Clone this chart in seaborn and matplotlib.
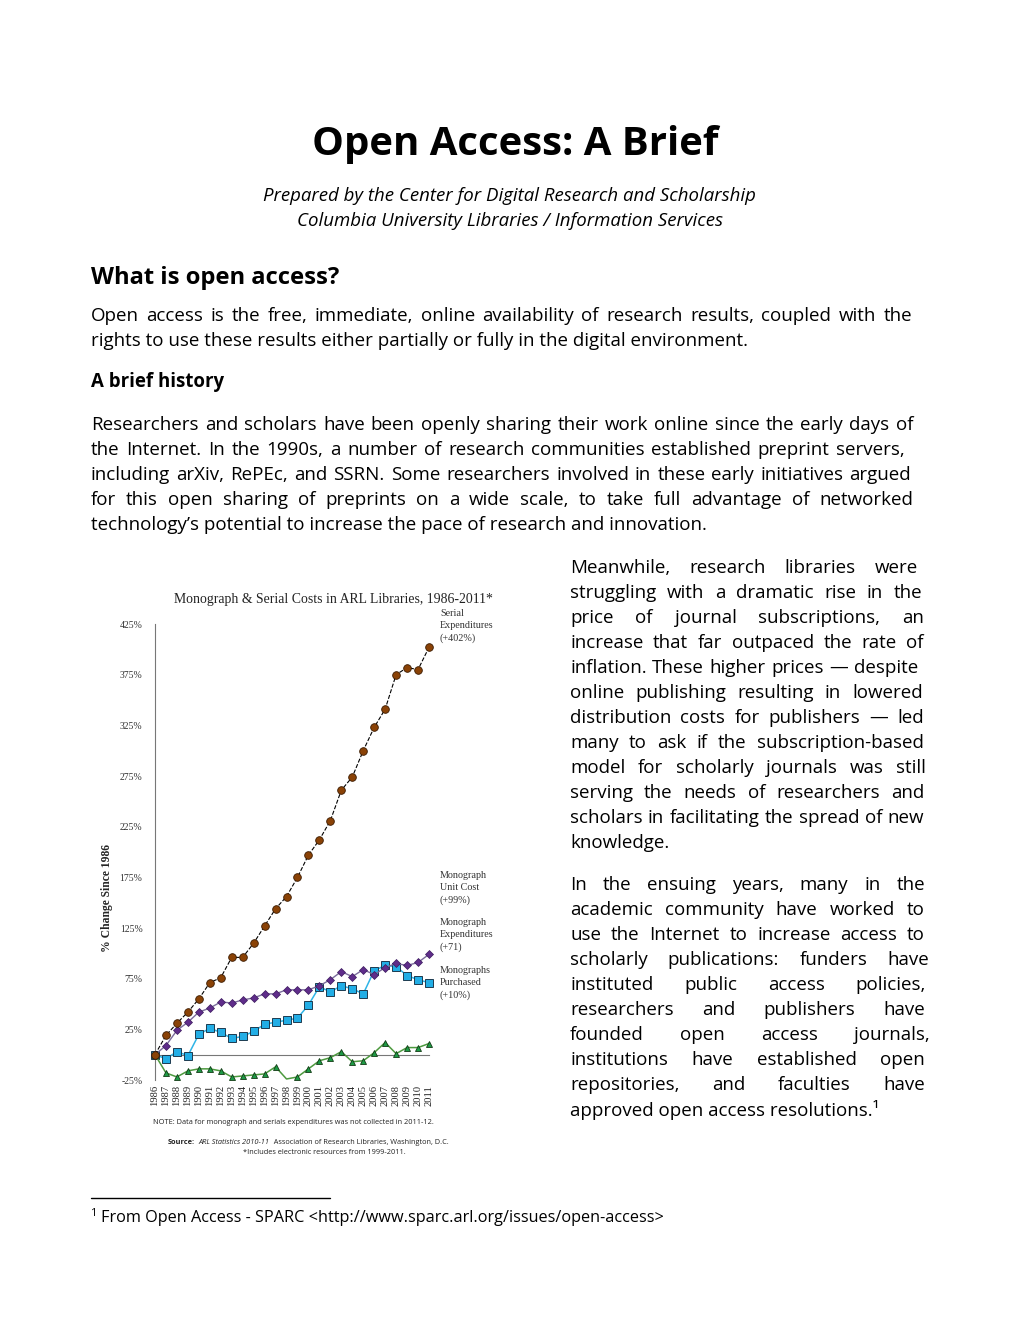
import numpy as np
import pandas as pd
import matplotlib
matplotlib.use("Agg")
import matplotlib.pyplot as plt
import seaborn as sns

# chart data (percent change since 1986)
years = list(range(1986, 2012))
serial_expenditures = [0, 19, 31, 42, 55, 71, 76, 96, 96, 110, 127, 144, 156, 175,
                       197, 212, 231, 261, 274, 300, 323, 341, 375, 382, 380, 402]
monograph_unit_cost = [0, 9, 24, 32, 42, 46, 52, 51, 54, 56, 60, 60, 64, 64,
                       64, 68, 74, 82, 77, 84, 79, 86, 90, 88, 91, 99]
monograph_expenditures = [0, -4, 3, -1, 20, 26, 22, 16, 18, 23, 30, 32, 34, 36,
                          49, 67, 62, 68, 65, 60, 83, 88, 87, 78, 74, 71]
monographs_purchased = [0, -18, -22, -16, -14, -14, -16, -22, -21, -20, -19, -12, -24, -22,
                        -14, -6, -3, 3, -7, -6, 2, 12, 1, 7, 7, 11]
y_ticks = [-25, 25, 75, 125, 175, 225, 275, 325, 375, 425]

series_labels = ["Serial\nExpenditures\n(+402%)", "Monograph\nUnit Cost\n(+99%)",
                 "Monograph\nExpenditures\n(+71)", "Monographs\nPurchased\n(+10%)"]

# page text
title = "Open Access: A Brief"
subtitle = ["Prepared by the Center for Digital Research and Scholarship",
            "Columbia University Libraries / Information Services"]
intro = ["Open access is the free, immediate, online availability of research results, coupled with the",
         "rights to use these results either partially or fully in the digital environment."]
history = ["Researchers and scholars have been openly sharing their work online since the early days of",
           "the Internet. In the 1990s, a number of research communities established preprint servers,",
           "including arXiv, RePEc, and SSRN. Some researchers involved in these early initiatives argued",
           "for this open sharing of preprints on a wide scale, to take full advantage of networked",
           "technology\u2019s potential to increase the pace of research and innovation."]
history_ends = [913, 905, 911, 913, None]
col1 = ["Meanwhile, research libraries were", "struggling with a dramatic rise in the",
        "price of journal subscriptions, an", "increase that far outpaced the rate of",
        "inflation. These higher prices \u2014 despite", "online publishing resulting in lowered",
        "distribution costs for publishers \u2014 led", "many to ask if the subscription-based",
        "model for scholarly journals was still", "serving the needs of researchers and",
        "scholars in facilitating the spread of new", "knowledge."]
col1_ends = [918, 922, 924, 924, 918, 923, 924, 924, 926, 924, 924, None]
col2 = ["In the ensuing years, many in the", "academic community have worked to",
        "use the Internet to  increase access to", "scholarly publications: funders have",
        "instituted public access policies,", "researchers and publishers have",
        "founded open access journals,", "institutions have established open",
        "repositories, and faculties have", "approved open access resolutions.\u00b9"]
col2_ends = [925, 925, 925, 929, 926, 925, 930, 925, 925, None]

W, H = 1020, 1320
sns.set_style("white")
plt.rcParams['font.family'] = ['Open Sans', 'DejaVu Sans']
plt.rcParams['text.color'] = 'black'

fig = plt.figure(figsize=(W / 100, H / 100), dpi=100)
renderer = fig.canvas.get_renderer()
BODY = 13.5


def put(x, y, s, size=BODY, **kw):
    return fig.text(x / W, 1 - y / H, s, fontsize=size, va='center', **kw)


def width(t):
    return t.get_window_extent(renderer=renderer).width


def line_out(x0, x1, y, line, size=BODY):
    if x1 is None:
        return put(x0, y, line, size)
    words = line.split()
    texts = [put(0, y, w, size) for w in words]
    widths = [width(t) for t in texts]
    gap = (x1 - x0 - sum(widths)) / max(len(words) - 1, 1)
    x = x0
    for t, w in zip(texts, widths):
        t.set_x(x / W)
        x += w + gap


def chain(x, y, parts, size):
    # runs of text with different weights/styles on one line
    for s, kw in parts:
        t = put(x, y, s, size, color='#222222', **kw)
        x += width(t)


put(515, 145, title, 28.9, ha='center', fontweight='bold')
put(509, 196, subtitle[0], 13.4, ha='center', style='italic')
put(510, 221, subtitle[1], 13.4, ha='center', style='italic')

put(91, 278, "What is open access?", 17.1, fontweight='bold')
line_out(91, 912, 316, intro[0])
line_out(91, None, 341, intro[1])

put(91, 382, "A brief history", 13.4, fontweight='bold')
for i, (line, end) in enumerate(zip(history, history_ends)):
    line_out(91, end, 425 + 25 * i, line)

for i, (line, end) in enumerate(zip(col1, col1_ends)):
    line_out(570, end, 568 + 25 * i, line)
for i, (line, end) in enumerate(zip(col2, col2_ends)):
    line_out(570, end, 885 + 25 * i, line)

# footnote
fig.add_artist(plt.Line2D([91 / W, 330 / W], [1 - 1198 / H, 1 - 1198 / H], color='black', lw=1))
put(90, 1213, "1", 8)
put(101, 1218, "From Open Access - SPARC <http://www.sparc.arl.org/issues/open-access>", 11.7)

# ---- chart ----
ax = fig.add_axes([155 / W, 1 - 1080 / H, 274 / W, 456 / H])
serif = 'Liberation Serif'

sns.lineplot(x=years, y=serial_expenditures, ax=ax, color='black', lw=0.8, linestyle='--',
             marker='o', markersize=5.5, markerfacecolor='#8a4206', markeredgecolor='#3a1a00',
             markeredgewidth=0.6, clip_on=False, zorder=5)
sns.lineplot(x=years, y=monograph_unit_cost, ax=ax, color='#7b6c9c', lw=1.0,
             marker='D', markersize=3.6, markerfacecolor='#5f2d8a', markeredgecolor='#3c1a5e',
             markeredgewidth=0.5, clip_on=False, zorder=4)
sns.lineplot(x=years, y=monograph_expenditures, ax=ax, color='#2fb4e6', lw=1.1,
             marker='s', markersize=5.2, markerfacecolor='#22aee6', markeredgecolor='#1d3b4f',
             markeredgewidth=0.7, clip_on=False, zorder=3)
sns.lineplot(x=years, y=monographs_purchased, ax=ax, color='#4d9a3f', lw=1.1,
             marker='^', markersize=5, markerfacecolor='#1d9a45', markeredgecolor='#123a14',
             markeredgewidth=0.6, clip_on=False, zorder=3,
             markevery=[i for i in range(len(years)) if years[i] != 1998])

for s in ['top', 'right']:
    ax.spines[s].set_visible(False)
ax.spines['bottom'].set_position(('data', 0))
ax.spines['bottom'].set_color('#777777')
ax.spines['bottom'].set_linewidth(0.8)
ax.spines['left'].set_color('#777777')
ax.spines['left'].set_linewidth(0.8)

ax.set_xlim(1986, 2011)
ax.set_ylim(-25, 425)
ax.set_yticks(y_ticks)
ax.set_yticklabels([f"{v}%" for v in y_ticks], fontsize=7, family=serif, color='#333333')
ax.set_xticks(years)
ax.set_xticklabels([str(y) for y in years], rotation=90, fontsize=7.6, family=serif, color='#222222')
ax.tick_params(axis='y', length=0, pad=9)
ax.tick_params(axis='x', length=3, width=0.6, color='#777777', direction='out', pad=19)
ax.patch.set_alpha(0)
ax.set_xlabel("")
ax.set_ylabel("% Change Since 1986", family=serif, fontweight='bold', fontsize=8.4)
ax.yaxis.set_label_coords(-0.155, 0.40)

put(333, 599, "Monograph & Serial Costs in ARL Libraries, 1986-2011*", 9.9, ha='center', family=serif,
    color='#222222')
label_tops = [609, 871, 918, 966]
for top, lab in zip(label_tops, series_labels):
    fig.text(440 / W, 1 - top / H, lab, fontsize=7.3, family=serif, va='top', linespacing=1.42,
             color='#333333')

put(293, 1122, "NOTE: Data for monograph and serials expenditures was not collected in 2011-12.", 5.3,
    ha='center', color='#222222')
chain(168, 1142, [("Source:", dict(fontweight='bold')), ("  ", {}),
                  ("ARL Statistics 2010-11", dict(style='italic')),
                  ("  Association of Research Libraries, Washington, D.C.", {})], 5.35)
put(324, 1152, "*Includes electronic resources from 1999-2011.", 5.3, ha='center', color='#222222')

fig.savefig("out.png", dpi=100)
